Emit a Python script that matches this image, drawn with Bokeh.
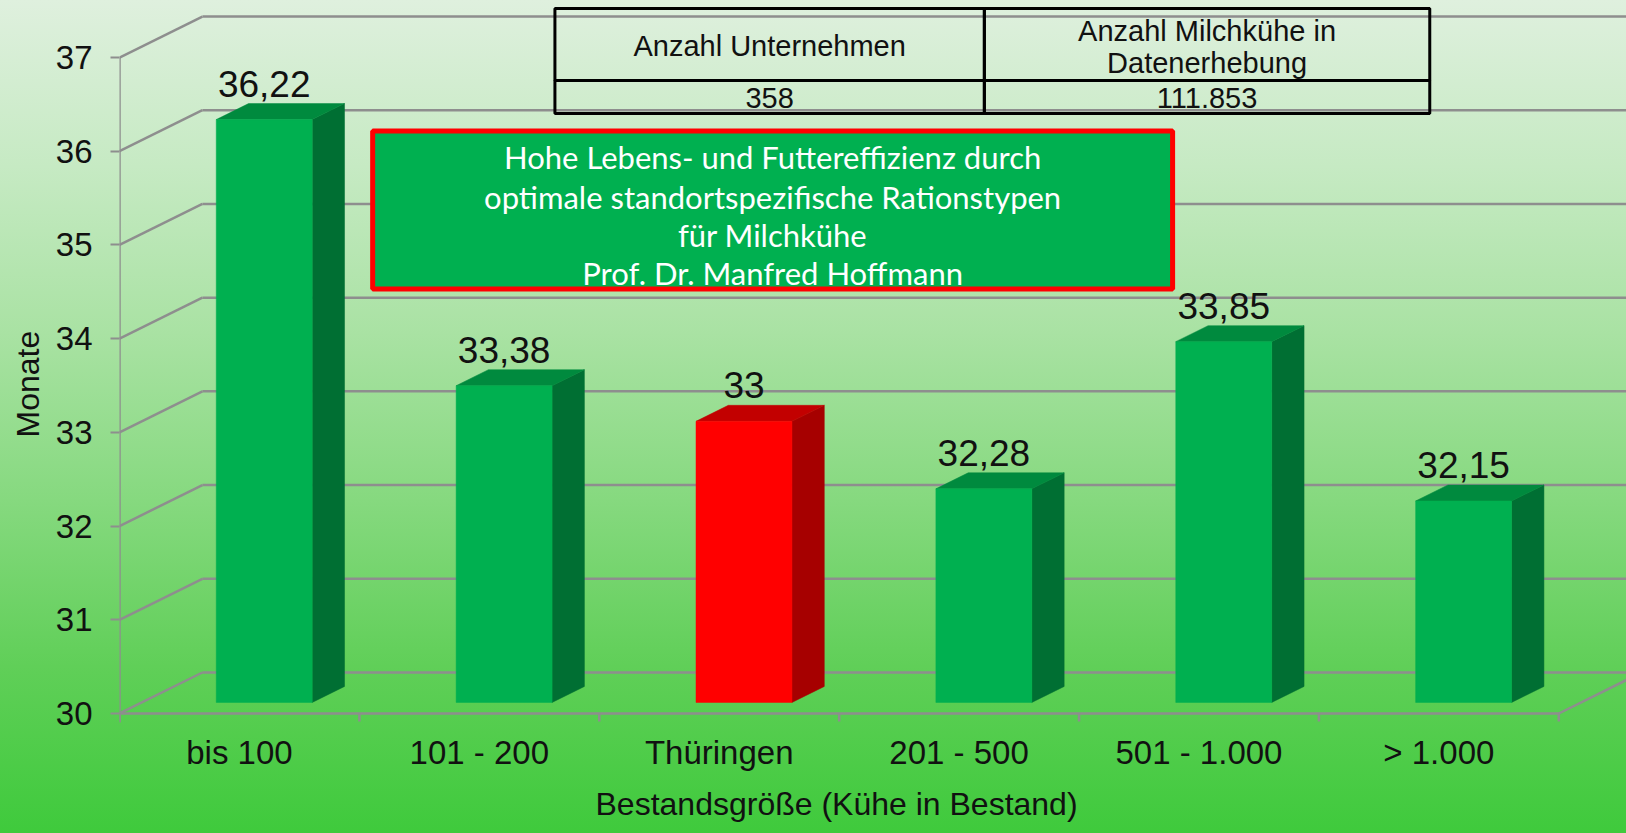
import numpy as np
from bokeh.plotting import figure
from bokeh.models import Range1d, FixedTicker, ColumnDataSource, LinearAxis, Title
from bokeh.core.properties import value
from bokeh.embed import file_html
from bokeh.resources import INLINE

# ---------------- data ----------------
categories = ["bis 100", "101 - 200", "Thüringen", "201 - 500", "501 - 1.000", "> 1.000"]
months = [36.22, 33.38, 33.0, 32.28, 33.85, 32.15]
value_labels = ["36,22", "33,38", "33", "32,28", "33,85", "32,15"]
highlight = "Thüringen"
y_ticks = [30, 31, 32, 33, 34, 35, 36, 37]
table_header = ["Anzahl Unternehmen", "Anzahl Milchkühe in", "Datenerhebung"]
table_values = ["358", "111.853"]
box_lines = ["Hohe Lebens- und Futtereffizienz durch",
             "optimale standortspezifische Rationstypen",
             "für Milchkühe",
             "Prof. Dr. Manfred Hoffmann"]
x_title = "Bestandsgröße (Kühe in Bestand)"
y_title = "Monate"

# ---------------- layout helpers (picture pixel -> data units) ----------------
W, H = 1626, 833
PX_X0, PX_Y30 = 117.0, 713.0      # front-left corner of the floor
UX, UY = 240.2, 93.71             # pixels per category / per month
def X(px):
    return (px - PX_X0) / UX
def Y(py):
    return 30 + (PX_Y30 - py) / UY
DX, DY = 83.0 / UX, 41.0 / UY      # depth vector of the 3D box
F0, F1 = 0.27, 0.66                # bar front / back depth fraction
BL, BR = 0.31, 0.71                # bar left / right inside category
FRAME_BOTTOM = 723

GRID = "#8e8e8e"
FONT = value("Liberation Sans")

p = figure(width=W, height=H,
           x_range=Range1d(0, X(W)), y_range=Range1d(Y(FRAME_BOTTOM), Y(0)),
           output_backend="svg", toolbar_location=None,
           x_axis_type=None, y_axis_type=None, title=None,
           min_border_left=int(PX_X0), min_border_right=0,
           min_border_top=0, min_border_bottom=H - FRAME_BOTTOM)
p.xgrid.visible = False
p.ygrid.visible = False
p.outline_line_color = None
p.border_fill_color = None
p.background_fill_color = None
p.styles = {"background": "linear-gradient(180deg, #dff0de 0%, #c6eac3 20%, #a9e2a3 40%, #86d97f 60%, #60cf58 80%, #3fca3c 100%)"}

n = len(categories)

# ---------------- 3D grid ----------------
yt = np.array(y_ticks, dtype=float)
p.segment(x0=np.full(len(yt), DX), y0=yt + DY, x1=np.full(len(yt), n + DX), y1=yt + DY,
          line_color=GRID, line_width=2.5)
p.segment(x0=np.zeros(len(yt)), y0=yt, x1=np.full(len(yt), DX), y1=yt + DY,
          line_color=GRID, line_width=2.5)
# floor front edge, right floor edge, front vertical axis line
p.segment(x0=[0, n, 0], y0=[30, 30, Y(722)], x1=[n, n + DX, 0], y1=[30, 30 + DY, y_ticks[-1]],
          line_color=GRID, line_width=2.5)
# category boundary ticks
bx = np.arange(n + 1, dtype=float)
p.segment(x0=bx, y0=np.full(n + 1, 30.0), x1=bx, y1=np.full(n + 1, Y(721)),
          line_color=GRID, line_width=2.5)

# ---------------- 3D bars ----------------
front_c, side_c, top_c = [], [], []
for c in categories:
    if c == highlight:
        front_c.append("#ff0000"); side_c.append("#a60000"); top_c.append("#c20000")
    else:
        front_c.append("#00b050"); side_c.append("#006f33"); top_c.append("#008a3e")

idx = np.arange(n, dtype=float)
v = np.array(months)
xl = idx + BL
xr = idx + BR

side_xs, side_ys, top_xs, top_ys = [], [], [], []
for i in range(n):
    side_xs.append([xr[i] + F0 * DX, xr[i] + F1 * DX, xr[i] + F1 * DX, xr[i] + F0 * DX])
    side_ys.append([30 + F0 * DY, 30 + F1 * DY, v[i] + F1 * DY, v[i] + F0 * DY])
    top_xs.append([xl[i] + F0 * DX, xr[i] + F0 * DX, xr[i] + F1 * DX, xl[i] + F1 * DX])
    top_ys.append([v[i] + F0 * DY, v[i] + F0 * DY, v[i] + F1 * DY, v[i] + F1 * DY])

p.patches(xs=side_xs, ys=side_ys, fill_color=side_c, line_color=side_c, line_width=0.5)
p.patches(xs=top_xs, ys=top_ys, fill_color=top_c, line_color=top_c, line_width=0.5)
p.quad(left=xl + F0 * DX, right=xr + F0 * DX, bottom=np.full(n, 30 + F0 * DY), top=v + F0 * DY,
       fill_color=front_c, line_color=front_c, line_width=0.5)

LABEL_GAP = 20.0 / UY
lab_src = ColumnDataSource(dict(x=(xl + xr) / 2 + F0 * DX, y=v + F1 * DY + LABEL_GAP, t=value_labels))
p.text(x="x", y="y", text="t", source=lab_src, text_align="center", text_baseline="alphabetic",
       text_font=FONT, text_font_size="37px", text_color="#111111")

# ---------------- info table ----------------
tl, tm, tr = X(553), X(983), X(1429)
tt, tmid, tb = Y(8), Y(80), Y(113)
p.quad(left=[tl, tm, tl, tm], right=[tm, tr, tm, tr], top=[tt, tt, tmid, tmid],
       bottom=[tmid, tmid, tb, tb], fill_color=None, line_color="#000000", line_width=3)
tab_src = ColumnDataSource(dict(
    x=[(tl + tm) / 2, (tm + tr) / 2, (tm + tr) / 2, (tl + tm) / 2, (tm + tr) / 2],
    y=[Y(45), Y(30), Y(62), Y(97), Y(97)],
    t=table_header + table_values))
p.text(x="x", y="y", text="t", source=tab_src, text_align="center", text_baseline="middle",
       text_font=FONT, text_font_size="29px", text_color="#111111")

# ---------------- highlighted text box ----------------
p.quad(left=[X(370.5)], right=[X(1171.5)], top=[Y(130.5)], bottom=[Y(288.5)],
       fill_color="#00b050", line_color="#ff0000", line_width=5)
box_src = ColumnDataSource(dict(x=[X(771)] * 4, y=[Y(156), Y(196), Y(234), Y(272)], t=box_lines))
p.text(x="x", y="y", text="t", source=box_src, text_align="center", text_baseline="middle",
       text_font=value("Lato"), text_font_size="31px", text_color="#ffffff")

# ---------------- axes ----------------
yax = LinearAxis(ticker=FixedTicker(ticks=y_ticks))
yax.axis_line_color = None
yax.major_tick_line_color = GRID
yax.major_tick_line_width = 2
yax.major_tick_out = 9
yax.major_tick_in = 0
yax.minor_tick_line_color = None
yax.major_label_standoff = 18
yax.major_label_text_font = "Liberation Sans"
yax.major_label_text_font_size = "33px"
yax.major_label_text_color = "#111111"
p.add_layout(yax, "left")

centers = [i + 0.5 for i in range(n)]
xax = LinearAxis(ticker=FixedTicker(ticks=centers),
                 major_label_overrides={c: lab for c, lab in zip(centers, categories)})
xax.axis_line_color = None
xax.major_tick_line_color = None
xax.major_tick_out = 0
xax.major_tick_in = 0
xax.minor_tick_line_color = None
xax.major_label_standoff = 10
xax.major_label_text_font = "Liberation Sans"
xax.major_label_text_font_size = "33px"
xax.major_label_text_color = "#111111"
p.add_layout(xax, "below")

p.add_layout(Title(text=x_title, align="left", offset=593 - PX_X0, standoff=21,
                   text_font="Liberation Sans", text_font_size="32px", text_font_style="normal",
                   text_color="#111111"), "below")
p.add_layout(Title(text=y_title, align="left", offset=FRAME_BOTTOM - 437, standoff=14,
                   text_font="Liberation Sans", text_font_size="32px", text_font_style="normal",
                   text_color="#111111"), "left")

open("out.html", "w").write(file_html(p, INLINE))
